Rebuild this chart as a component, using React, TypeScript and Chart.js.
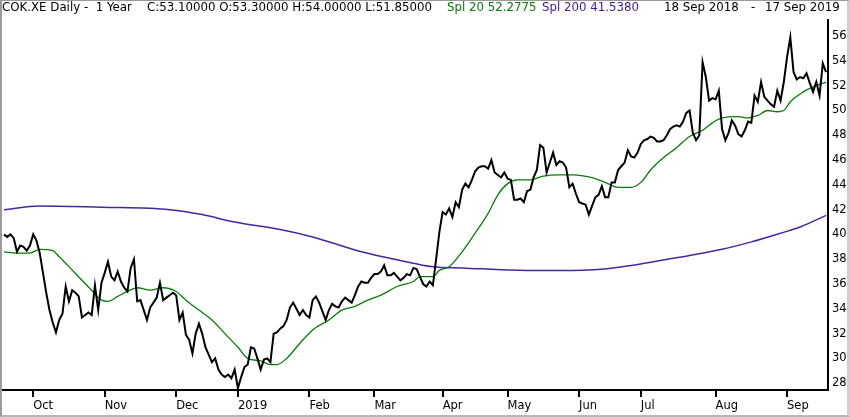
import { useEffect, useRef } from "react"
import { Chart, registerables } from "chart.js"

Chart.register(...registerables)

// daily closes, 18 Sep 2018 .. 17 Sep 2019 (one value per trading day)
const closeValues = [
  40.0, 39.8, 40.0, 39.7, 38.6, 39.1, 39.0, 38.7, 39.1, 40.0,
  39.5, 38.5, 36.9, 35.3, 33.9, 32.9, 32.1, 33.1, 33.6, 35.8,
  34.6, 35.5, 35.3, 35.0, 33.3, 33.5, 33.7, 33.5, 35.9, 33.9,
  36.1, 36.9, 37.8, 36.6, 36.3, 37.0, 36.2, 35.7, 35.4, 37.3,
  38.0, 34.6, 34.7, 33.9, 33.1, 34.1, 34.5, 34.9, 36.1, 34.7,
  34.9, 35.1, 35.3, 35.1, 33.1, 33.7, 31.9, 31.5, 30.4, 32.0,
  32.8, 32.0, 30.9, 30.3, 29.7, 30.0, 29.1, 28.7, 28.5, 28.7,
  28.4, 29.1, 27.6, 28.5, 29.3, 29.5, 30.9, 30.8, 30.0, 29.1,
  29.9, 30.0, 29.7, 32.0, 32.1, 32.4, 32.6, 33.1, 34.1, 34.5,
  34.0, 33.5, 33.9, 33.5, 33.3, 34.7, 35.0, 34.5, 33.8, 33.1,
  33.9, 34.4, 34.2, 34.1, 34.6, 34.9, 34.7, 34.5, 35.1, 35.8,
  36.2, 36.1, 36.1, 36.5, 36.8, 36.8, 37.0, 37.5, 36.7, 36.7,
  36.9, 36.6, 36.3, 36.5, 36.8, 36.7, 37.3, 37.2, 36.6, 36.0,
  35.8, 36.2, 35.9, 38.0, 40.2, 41.8, 41.6, 42.1, 41.4, 42.6,
  42.2, 43.6, 44.1, 43.8, 44.4, 45.1, 45.4, 45.5, 45.5, 45.3,
  46.0, 45.0, 44.8, 44.6, 45.0, 44.5, 44.4, 42.8, 42.8, 42.9,
  42.6, 43.5, 43.6, 44.6, 45.2, 47.2, 47.0, 45.0, 45.8, 46.6,
  45.6, 45.9, 45.8, 45.4, 43.8, 44.1, 43.3, 42.6, 42.5, 42.4,
  41.6, 42.3, 43.0, 43.2, 43.9, 43.0, 43.0, 44.2, 44.2, 45.2,
  45.5, 45.8, 46.8, 46.3, 46.2, 46.6, 47.3, 47.6, 47.7, 47.9,
  47.8, 47.5, 47.5, 47.6, 48.0, 48.5, 48.7, 48.8, 48.7, 49.1,
  49.8, 50.0, 48.2, 47.6, 48.0, 53.9, 52.7, 50.8, 51.0, 50.9,
  51.6, 48.5, 47.6, 48.2, 49.2, 48.8, 48.1, 47.9, 48.4, 49.1,
  49.0, 51.2, 50.7, 52.3, 51.1, 50.8, 50.5, 50.3, 51.6, 50.8,
  52.3, 54.3, 55.9, 53.1, 52.5, 52.7, 52.6, 53.0, 52.2, 51.5,
  52.3, 51.2, 53.8, 53.1,
]

// 20 day average at these trading days
const sma20Days = [
  0, 4, 8, 11, 15, 17, 20, 24, 27, 30, 32, 35, 38, 41, 45, 49, 53, 56, 60, 64,
  68, 72, 75, 79, 82, 84, 87, 91, 95, 100, 104, 108, 112, 116, 121, 126, 128, 132, 134, 137,
  141, 145, 149, 152, 155, 158, 162, 166, 171, 175, 182, 185, 189, 193, 196, 199, 203, 207, 211, 215,
  218, 221, 226, 229, 232, 235, 238, 240, 242, 246, 249, 253,
]
const sma20Values = [
  38.6, 38.5, 38.5, 38.8, 38.7, 38.2, 37.4, 36.3, 35.5, 34.7, 34.6, 35.0, 35.4, 35.7, 35.5, 35.7, 35.4, 34.7, 33.9, 33.1,
  32.0, 30.9, 30.0, 29.8, 29.5, 29.5, 30.0, 31.2, 32.3, 33.1, 33.9, 34.2, 34.7, 35.1, 35.8, 36.2, 36.6, 36.6, 37.1, 37.4,
  38.6, 40.1, 41.7, 43.2, 44.1, 44.4, 44.4, 44.7, 44.8, 44.8, 44.5, 44.2, 43.8, 43.8, 44.2, 45.2, 46.2, 47.0, 47.9, 48.4,
  49.0, 49.4, 49.5, 49.4, 49.6, 50.0, 49.9, 50.0, 50.7, 51.5, 51.9, 52.28,
]

// 200 day average
const sma200Days = [0, 11, 30, 51, 61, 71, 85, 95, 110, 122, 132, 141, 161, 171, 184, 193, 202, 211, 221, 230, 239, 245, 253]
const sma200Values = [
  42.0, 42.3, 42.2, 42.0, 41.6, 41.0, 40.4, 39.8, 38.6, 37.9, 37.4, 37.3, 37.1, 37.1, 37.2, 37.5, 37.9, 38.3, 38.8, 39.4,
  40.1, 40.6, 41.54,
]

// first trading day of each month
const monthTickDays = [9, 31, 53, 72, 94, 114, 135, 155, 177, 196, 219, 241]
const monthLabels = ["Oct", "Nov", "Dec", "2019", "Feb", "Mar", "Apr", "May", "Jun", "Jul", "Aug", "Sep"]

const priceTicks = [28, 30, 32, 34, 36, 38, 40, 42, 44, 46, 48, 50, 52, 54, 56]

const FONT = "DejaVu Sans, Verdana, sans-serif"

const headerParts = [
  { text: "COK.XE Daily -  1 Year", left: 2, color: "#000" },
  { text: "C:53.10000 O:53.30000 H:54.00000 L:51.85000", left: 147, color: "#000" },
  { text: "Spl 20 52.2775", left: 447, color: "#0a7a0a" },
  { text: "Spl 200 41.5380", left: 542, color: "#3c1e8c" },
  { text: "18 Sep 2018", left: 664, color: "#000" },
  { text: "-", left: 751, color: "#000" },
  { text: "17 Sep 2019", left: 765, color: "#000" },
]

export default function App() {
  const canvasRef = useRef<HTMLCanvasElement>(null)

  useEffect(() => {
    if (!canvasRef.current) return

    const chart = new Chart(canvasRef.current, {
      type: "line",
      data: {
        datasets: [
          {
            label: "Close",
            data: closeValues.map((v, i) => ({ x: i, y: v })),
            borderColor: "#000",
            borderWidth: 2,
            pointRadius: 0,
            tension: 0,
          },
          {
            label: "Spl 20",
            data: sma20Days.map((d, i) => ({ x: d, y: sma20Values[i] })),
            borderColor: "#0a7a0a",
            borderWidth: 1.3,
            pointRadius: 0,
            cubicInterpolationMode: "monotone",
          },
          {
            label: "Spl 200",
            data: sma200Days.map((d, i) => ({ x: d, y: sma200Values[i] })),
            borderColor: "#46289e",
            borderWidth: 1.5,
            pointRadius: 0,
            cubicInterpolationMode: "monotone",
          },
        ],
      },
      options: {
        animation: false,
        responsive: false,
        layout: { padding: { left: 3, top: 20, right: 0, bottom: 0 } },
        plugins: {
          legend: { display: false },
          tooltip: { enabled: false },
        },
        scales: {
          x: {
            type: "linear",
            min: -0.3,
            max: 253.6,
            afterBuildTicks: (axis) => {
              axis.ticks = monthTickDays.map((value) => ({ value }))
            },
            afterFit: (axis) => {
              axis.height = 27
            },
            grid: {
              display: true,
              drawOnChartArea: false,
              drawTicks: true,
              tickLength: 7,
              color: "#000",
              lineWidth: 2,
            },
            border: { display: true, color: "#000", width: 2 },
            ticks: {
              autoSkip: false,
              maxRotation: 0,
              align: "start",
              padding: 2,
              color: "#000",
              font: { family: FONT, size: 11.5 },
              callback: (value) => monthLabels[monthTickDays.indexOf(Number(value))],
            },
          },
          y: {
            type: "linear",
            position: "right",
            min: 27.45,
            max: 57.3,
            afterBuildTicks: (axis) => {
              axis.ticks = priceTicks.map((value) => ({ value }))
            },
            afterFit: (axis) => {
              axis.width = 22
            },
            grid: { display: false, drawTicks: false },
            border: { display: true, color: "#000", width: 2 },
            ticks: {
              padding: 4,
              color: "#000",
              font: { family: FONT, size: 11.5 },
            },
          },
        },
      },
    })

    return () => chart.destroy()
  }, [])

  return (
    <div
      style={{
        position: "fixed",
        left: 0,
        top: 0,
        width: 850,
        height: 417,
        background: "#fff",
        overflow: "hidden",
        fontFamily: FONT,
      }}
    >
      <canvas ref={canvasRef} width={850} height={417} style={{ position: "absolute", left: 0, top: 0 }} />
      {headerParts.map((p) => (
        <div
          key={p.text + p.left}
          style={{
            position: "absolute",
            left: p.left,
            top: 0,
            fontSize: 11.8,
            lineHeight: "14px",
            whiteSpace: "pre",
            color: p.color,
          }}
        >
          {p.text}
        </div>
      ))}
      <div
        style={{
          position: "absolute",
          left: 0,
          top: 0,
          width: 850,
          height: 417,
          boxSizing: "border-box",
          borderLeft: "2px solid #9a9a9a",
          borderTop: "1px solid #9a9a9a",
          borderRight: "3px solid #cfcfcf",
          borderBottom: "2px solid #b8b8b8",
          pointerEvents: "none",
        }}
      />
    </div>
  )
}
